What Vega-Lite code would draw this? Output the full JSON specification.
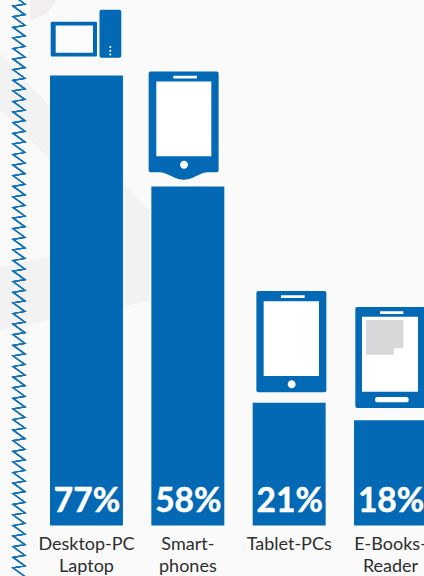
{
  "$schema": "https://vega.github.io/schema/vega-lite/v6.json",
  "width": 424,
  "height": 576,
  "padding": 0,
  "autosize": {"type": "none"},
  "background": "#fafafa",
  "config": {"view": {"stroke": null}, "font": "Lato"},
  "datasets": {
    "devices": [
      {"device": "Desktop-PC\nLaptop", "share": 0.77},
      {"device": "Smart-\nphones", "share": 0.58},
      {"device": "Tablet-PCs", "share": 0.21},
      {"device": "E-Books-\nReader", "share": 0.18}
    ]
  },
  "data": {"name": "devices"},
  "encoding": {
    "x": {
      "field": "device",
      "type": "nominal",
      "sort": null,
      "axis": null,
      "scale": {"range": [50, 427], "paddingInner": 0.28, "paddingOuter": 0}
    },
    "y": {
      "field": "share",
      "type": "quantitative",
      "axis": null,
      "scale": {"domain": [0, 0.899], "range": [525.5, 0]}
    }
  },
  "layer": [
    {
      "description": "Soft grey sheen behind the chart, anchored to the first bar's foot",
      "mark": {
        "type": "point",
        "filled": true,
        "size": 4,
        "opacity": 1,
        "color": "#f2f2f2",
        "shape": "M-86.5 -471 L36 -343 L63.5 -314 L63.5 -276 L37 -280 L-36 -366 L-86.5 -416 Z M-86.5 -258 L-36 -269 L37 -283 L63.5 -286 L63.5 -225 L-86.5 -196 Z"
      },
      "encoding": {"x": {"datum": "Desktop-PC\nLaptop"}, "y": {"datum": 0}}
    },
    {
      "description": "Faint blush in the top corner",
      "mark": {
        "type": "point",
        "filled": true,
        "size": 4,
        "opacity": 1,
        "color": "#f3eeee",
        "shape": "M-56 -526 L-30 -526 L-40 -512 L-56 -505 Z"
      },
      "encoding": {"x": {"datum": "Desktop-PC\nLaptop"}, "y": {"datum": 0}}
    },
    {
      "description": "Zigzag border running down the left edge",
      "mark": {
        "type": "point",
        "filled": false,
        "size": 4,
        "opacity": 1,
        "stroke": "#1272bb",
        "strokeWidth": 1.2,
        "shape": "M-73.5 -530 l12 8.6 l-12 2 l12 8.6 l-12 2 l12 8.6 l-12 2 l12 8.6 l-12 2 l12 8.6 l-12 2 l12 8.6 l-12 2 l12 8.6 l-12 2 l12 8.6 l-12 2 l12 8.6 l-12 2 l12 8.6 l-12 2 l12 8.6 l-12 2 l12 8.6 l-12 2 l12 8.6 l-12 2 l12 8.6 l-12 2 l12 8.6 l-12 2 l12 8.6 l-12 2 l12 8.6 l-12 2 l12 8.6 l-12 2 l12 8.6 l-12 2 l12 8.6 l-12 2 l12 8.6 l-12 2 l12 8.6 l-12 2 l12 8.6 l-12 2 l12 8.6 l-12 2 l12 8.6 l-12 2 l12 8.6 l-12 2 l12 8.6 l-12 2 l12 8.6 l-12 2 l12 8.6 l-12 2 l12 8.6 l-12 2 l12 8.6 l-12 2 l12 8.6 l-12 2 l12 8.6 l-12 2 l12 8.6 l-12 2 l12 8.6 l-12 2 l12 8.6 l-12 2 l12 8.6 l-12 2 l12 8.6 l-12 2 l12 8.6 l-12 2 l12 8.6 l-12 2 l12 8.6 l-12 2 l12 8.6 l-12 2 l12 8.6 l-12 2 l12 8.6 l-12 2 l12 8.6 l-12 2 l12 8.6 l-12 2 l12 8.6 l-12 2 l12 8.6 l-12 2 l12 8.6 l-12 2 l12 8.6 l-12 2 l12 8.6 l-12 2 l12 8.6 l-12 2 l12 8.6 l-12 2 l12 8.6 l-12 2 l12 8.6 l-12 2 l12 8.6 l-12 2 l12 8.6 l-12 2 l12 8.6 l-12 2"
      },
      "encoding": {"x": {"datum": "Desktop-PC\nLaptop"}, "y": {"datum": 0}}
    },
    {"mark": {"type": "bar", "color": "#0369b4"}},
    {
      "description": "Desktop and tower pictogram",
      "transform": [{"filter": "datum.share === 0.77"}],
      "layer": [
        {"mark": {"type": "point", "filled": true, "opacity": 1, "size": 4, "color": "#0369b4",
          "shape": "M-35.8 -52.7 Q-35.8 -53.7 -34.8 -53.7 L9.5 -53.7 Q10.5 -53.7 10.5 -52.7 L10.5 -20 Q10.5 -19 9.5 -19 L-34.8 -19 Q-35.8 -19 -35.8 -20 Z M13 -63.7 Q13 -65.7 15 -65.7 L32.8 -65.7 Q34.8 -65.7 34.8 -63.7 L34.8 -19.7 Q34.8 -17.7 32.8 -17.7 L15 -17.7 Q13 -17.7 13 -19.7 Z"}},
        {"mark": {"type": "point", "filled": true, "opacity": 1, "size": 4, "color": "#fbfbfb",
          "shape": "M-30.8 -50 L6.5 -50 L6.5 -22.7 L-30.8 -22.7 Z M22.8 -28.5 a1 1 0 1 0 2 0 a1 1 0 1 0 -2 0 Z M22.8 -24.7 a1 1 0 1 0 2 0 a1 1 0 1 0 -2 0 Z M22.8 -21 a1 1 0 1 0 2 0 a1 1 0 1 0 -2 0 Z"}}
      ]
    },
    {
      "description": "Smartphone pictogram",
      "transform": [{"filter": "datum.share === 0.58"}],
      "layer": [
        {"mark": {"type": "point", "filled": true, "opacity": 1, "size": 4, "color": "#0369b4",
          "shape": "M-39.2 -113 Q-39.2 -115 -37.2 -115 L28.8 -115 Q30.8 -115 30.8 -113 L30.8 -16.3 Q30.8 -14.3 28.8 -14.3 L19 -14.3 C12 -13.5 4 -6.7 -4 -6.7 C-12 -6.7 -20 -13.5 -27.5 -14.3 L-37.2 -14.3 Q-39.2 -14.3 -39.2 -16.3 Z"}},
        {"mark": {"type": "point", "filled": true, "opacity": 1, "size": 4, "color": "#ffffff",
          "shape": "M-31.5 -105 L23.5 -105 L23.5 -30.3 L-31.5 -30.3 Z M-14.5 -110.7 L9.2 -110.7 L9.2 -108 L-14.5 -108 Z M-7.8 -21.7 a4 4 0 1 0 8 0 a4 4 0 1 0 -8 0 Z"}}
      ]
    },
    {
      "description": "Tablet pictogram",
      "transform": [{"filter": "datum.share === 0.21"}],
      "layer": [
        {"mark": {"type": "point", "filled": true, "opacity": 1, "size": 4, "color": "#0369b4",
          "shape": "M-32.8 -109.7 Q-32.8 -111.7 -30.8 -111.7 L35.2 -111.7 Q37.2 -111.7 37.2 -109.7 L37.2 -12.4 Q37.2 -10.4 35.2 -10.4 L-30.8 -10.4 Q-32.8 -10.4 -32.8 -12.4 Z"}},
        {"mark": {"type": "point", "filled": true, "opacity": 1, "size": 4, "color": "#ffffff",
          "shape": "M-25.5 -101.4 L29.8 -101.4 L29.8 -26.7 L-25.5 -26.7 Z M-8.2 -107.4 L15.5 -107.4 L15.5 -104.7 L-8.2 -104.7 Z M-1.5 -18.4 a4 4 0 1 0 8 0 a4 4 0 1 0 -8 0 Z"}}
      ]
    },
    {
      "description": "E-book reader pictogram",
      "transform": [{"filter": "datum.share === 0.18"}],
      "layer": [
        {"mark": {"type": "point", "filled": true, "opacity": 1, "size": 4, "color": "#0369b4",
          "shape": "M-35.2 -111.3 Q-35.2 -113.3 -33.2 -113.3 L33.5 -113.3 Q35.5 -113.3 35.5 -111.3 L35.5 -14.3 Q35.5 -12.3 33.5 -12.3 L-33.2 -12.3 Q-35.2 -12.3 -35.2 -14.3 Z"}},
        {"mark": {"type": "point", "filled": true, "opacity": 1, "size": 4, "color": "#ffffff",
          "shape": "M-28.5 -103.6 L27.5 -103.6 L27.5 -28.6 L-28.5 -28.6 Z M-10.5 -109 L12.8 -109 L12.8 -106.3 L-10.5 -106.3 Z M-13 -23.3 L15.7 -23.3 Q18.2 -23.3 18.2 -20.6 Q18.2 -18 15.7 -18 L-13 -18 Q-15.5 -18 -15.5 -20.6 Q-15.5 -23.3 -13 -23.3 Z"}},
        {"mark": {"type": "point", "filled": true, "opacity": 1, "size": 4, "color": "#d7d8da",
          "shape": "M-24.8 -100.3 L12.8 -100.3 L12.8 -72 L3.5 -72 L3.5 -65.6 L-24.8 -65.6 Z"}}
      ]
    },
    {
      "description": "Share printed at the foot of each bar",
      "mark": {"type": "text", "color": "#ffffff", "stroke": "#ffffff", "strokeWidth": 0.5, "font": "Lato", "fontWeight": 700, "fontSize": 33.5, "baseline": "alphabetic", "align": "center"},
      "encoding": {
        "y": {"datum": 0},
        "yOffset": {"value": -13.5},
        "xOffset": {"condition": {"test": "datum.share === 0.58 || datum.share === 0.21", "value": 41}, "value": 37},
        "text": {"field": "share", "type": "quantitative", "format": ".0%"}
      }
    },
    {
      "description": "Device name under each bar",
      "mark": {"type": "text", "color": "#2d2d2d", "font": "Lato", "fontSize": 18, "lineHeight": 21.5, "lineBreak": "\n", "baseline": "top", "align": "center"},
      "encoding": {
        "y": {"datum": 0},
        "yOffset": {"value": 10.5},
        "xOffset": {"condition": {"test": "datum.share === 0.77", "value": 34}, "value": 36.5},
        "text": {"field": "device", "type": "nominal"}
      }
    }
  ]
}
